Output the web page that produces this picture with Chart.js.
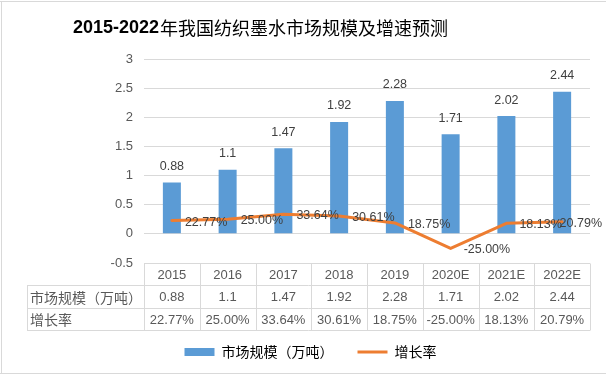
<!DOCTYPE html>
<html><head><meta charset="utf-8">
<script src="https://cdn.jsdelivr.net/npm/chart.js@4/dist/chart.umd.min.js"></script>
<style>html,body{margin:0;padding:0;background:#fff}#wrap{width:606px;height:376px}</style>
</head><body><div id="wrap"><canvas id="c" width="606" height="376"></canvas></div>
<script>
const titleYears = '2015-2022';
const titleRest = '年我国纺织墨水市场规模及增速预测';
const categories = ['2015','2016','2017','2018','2019','2020E','2021E','2022E'];
const marketSize = [0.88, 1.1, 1.47, 1.92, 2.28, 1.71, 2.02, 2.44];
const growthRate = [0.2277, 0.25, 0.3364, 0.3061, 0.1875, -0.25, 0.1813, 0.2079];
const sizeLabels = ['0.88','1.1','1.47','1.92','2.28','1.71','2.02','2.44'];
const rateLabels = ['22.77%','25.00%','33.64%','30.61%','18.75%','-25.00%','18.13%','20.79%'];
const seriesNames = ['市场规模（万吨）','增长率'];
const yTicks = [-0.5, 0, 0.5, 1, 1.5, 2, 2.5, 3];

const NUM_FONT = "'Liberation Sans', 'Noto Sans CJK SC', sans-serif";
const CJK_FONT = "'Noto Sans CJK SC', 'Liberation Sans', sans-serif";
const BLUE = '#5B9BD5', ORANGE = '#ED7D31', GRID = '#D9D9D9', TXT = '#595959', LBL = '#404040';

const frame = {
  id: 'frame',
  beforeDraw(chart) {
    const c = chart.ctx;
    c.save();
    c.fillStyle = '#fff';
    c.fillRect(0, 0, chart.width, chart.height);
    c.strokeStyle = GRID; c.lineWidth = 1;
    c.beginPath();
    c.moveTo(0, 1.5); c.lineTo(chart.width, 1.5);
    c.moveTo(1.5, 1); c.lineTo(1.5, 374);
    c.moveTo(0, 373.5); c.lineTo(chart.width, 373.5);
    c.stroke();
    // title: bold years + regular Chinese text
    c.fillStyle = '#000';
    c.textBaseline = 'middle';
    c.textAlign = 'left';
    c.font = "bold 18px 'Liberation Sans', sans-serif";
    const x0 = 73, y0 = 28;
    c.fillText(titleYears, x0, y0);
    const w = c.measureText(titleYears).width;
    c.font = "normal 18px 'Noto Sans CJK SC', sans-serif";
    c.fillText(titleRest, x0 + w + 1, y0);
    c.restore();
  }
};

const valueLabels = {
  id: 'valueLabels',
  afterDatasetsDraw(chart) {
    const c = chart.ctx;
    c.save();
    c.fillStyle = LBL;
    c.font = "12.5px " + NUM_FONT;
    c.textBaseline = 'middle';
    c.textAlign = 'center';
    chart.getDatasetMeta(0).data.forEach((el, i) => {
      c.fillText(sizeLabels[i], el.x, el.y - 16);
    });
    c.textAlign = 'left';
    chart.getDatasetMeta(1).data.forEach((el, i) => {
      const tw = c.measureText(rateLabels[i]).width;
      const x = Math.min(el.x + 13, 602 - tw);
      c.fillText(rateLabels[i], x, el.y + 1.5);
    });
    c.restore();
  }
};

const dataTable = {
  id: 'dataTable',
  afterDraw(chart) {
    const c = chart.ctx;
    const xs = chart.scales.x;
    const n = categories.length;
    const colW = xs.width / n;
    const top = chart.chartArea.bottom;
    const rowH = 22.4;
    const leftX = 27;
    const rightX = xs.right;
    c.save();
    c.strokeStyle = GRID; c.lineWidth = 1;
    c.beginPath();
    const r = v => Math.round(v) + 0.5;
    c.moveTo(xs.left, r(top)); c.lineTo(rightX, r(top));
    for (let k = 1; k <= 3; k++) {
      c.moveTo(leftX, r(top + rowH * k)); c.lineTo(rightX, r(top + rowH * k));
    }
    c.moveTo(r(leftX), r(top + rowH)); c.lineTo(r(leftX), r(top + rowH * 3));
    for (let i = 0; i <= n; i++) {
      const x = i < n ? xs.getPixelForValue(i) - colW / 2 : xs.getPixelForValue(n - 1) + colW / 2;
      c.moveTo(r(x), r(top)); c.lineTo(r(x), r(top + rowH * 3));
    }
    c.stroke();
    c.fillStyle = TXT;
    c.textBaseline = 'middle';
    c.textAlign = 'center';
    c.font = "13px " + NUM_FONT;
    for (let i = 0; i < n; i++) {
      const cx = xs.getPixelForValue(i);
      c.fillText(categories[i], cx, top + rowH * 0.5 + 1);
      c.fillText(sizeLabels[i], cx, top + rowH * 1.5 + 1);
      c.fillText(rateLabels[i], cx, top + rowH * 2.5 + 1);
    }
    c.textAlign = 'left';
    c.font = "14px " + CJK_FONT;
    c.fillText(seriesNames[0], leftX + 3, top + rowH * 1.5 + 1);
    c.fillText(seriesNames[1], leftX + 3, top + rowH * 2.5 + 1);
    c.restore();
  }
};

new Chart(document.getElementById('c'), {
  data: {
    labels: categories,
    datasets: [
      { type: 'bar', label: seriesNames[0], data: marketSize, backgroundColor: BLUE, borderWidth: 0,
        barPercentage: 0.323, categoryPercentage: 1, order: 2 },
      { type: 'line', label: seriesNames[1], data: growthRate, borderColor: ORANGE, backgroundColor: ORANGE,
        borderWidth: 3, pointRadius: 0, tension: 0, order: 1, borderCapStyle: 'round', borderJoinStyle: 'round' }
    ]
  },
  options: {
    responsive: false,
    animation: false,
    devicePixelRatio: 1,
    layout: { padding: { left: 31, right: 16, top: 59, bottom: 7 } },
    scales: {
      x: {
        type: 'category',
        grid: { display: false },
        border: { display: false },
        ticks: { display: false },
        afterFit(s) { s.height = 58; }
      },
      y: {
        min: -0.5, max: 3,
        afterBuildTicks(s) { s.ticks = yTicks.map(v => ({ value: v })); },
        grid: { color: GRID, lineWidth: 1, drawTicks: false },
        border: { display: false },
        ticks: { color: TXT, font: { family: NUM_FONT, size: 13 }, padding: 11,
                 callback: v => String(v) },
        afterFit(s) { s.width = 113; }
      }
    },
    plugins: {
      title: { display: false },
      legend: {
        display: true, position: 'bottom',
        labels: {
          usePointStyle: true, pointStyleWidth: 30, boxHeight: 8, padding: 24,
          color: TXT, font: { family: CJK_FONT, size: 14 },
          sort: (a, b) => a.datasetIndex - b.datasetIndex,
          generateLabels(chart) {
            return chart.data.datasets.map((ds, i) => ({
              text: ds.label, datasetIndex: i,
              fillStyle: ds.type === 'bar' ? BLUE : ORANGE,
              strokeStyle: ds.type === 'bar' ? BLUE : ORANGE,
              lineWidth: ds.type === 'bar' ? 0 : 3,
              pointStyle: ds.type === 'bar' ? 'rect' : 'line',
              hidden: false
            }));
          }
        }
      },
      tooltip: { enabled: false }
    }
  },
  plugins: [frame, valueLabels, dataTable]
});
</script>
</body></html>
